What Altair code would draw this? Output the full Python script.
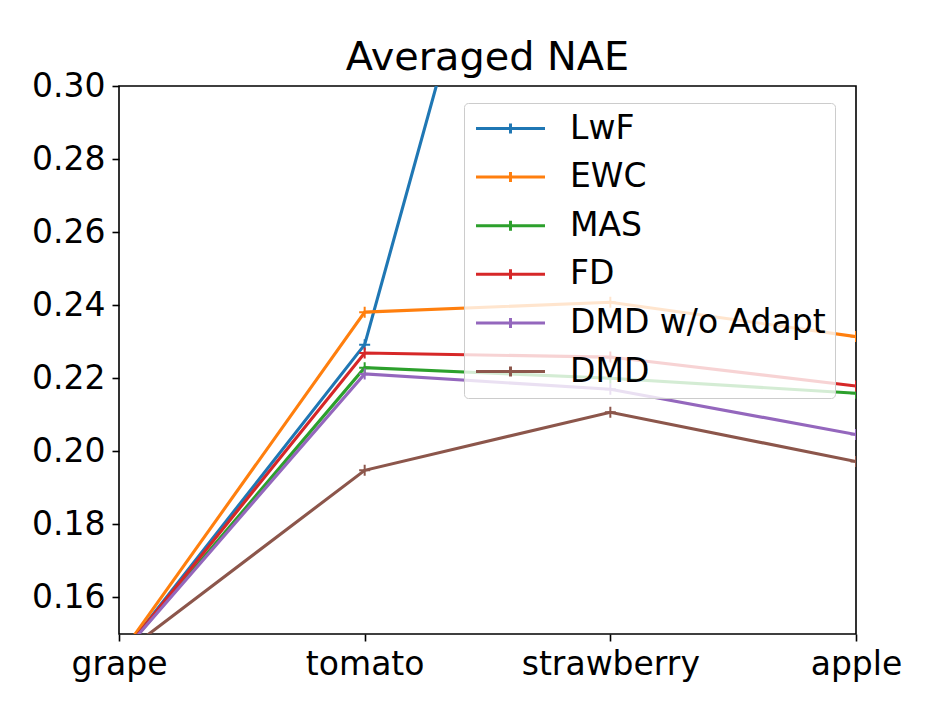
import altair as alt
import pandas as pd

categories = ["grape", "tomato", "strawberry", "apple"]
methods = ["LwF", "EWC", "MAS", "FD", "DMD w/o Adapt", "DMD"]
colors = ["#1f77b4", "#ff7f0e", "#2ca02c", "#d62728", "#9467bd", "#8c564b"]

lwf = [0.1435, 0.2292, 0.472, 0.52]
ewc = [0.1438, 0.2381, 0.2408, 0.2314]
mas = [0.1437, 0.2229, 0.2200, 0.2159]
fd = [0.1435, 0.2269, 0.2258, 0.2179]
dmd_wo = [0.1437, 0.2212, 0.2170, 0.2046]
dmd = [0.1438, 0.1948, 0.2107, 0.1972]
y_ticks = [0.16, 0.18, 0.20, 0.22, 0.24, 0.26, 0.28, 0.30]

series = [lwf, ewc, mas, fd, dmd_wo, dmd]
rows = []
for k, (m, vals) in enumerate(zip(methods, series)):
    for c, v in zip(categories, vals):
        rows.append({"method": m, "task": c, "value": v, "k": k})
df = pd.DataFrame(rows)

FONT = "DejaVu Sans"
legend_symbol = "M-3.45,0L3.45,0M0,-0.5L0,0.5"
marker = "M-1,0L1,0M0,-1L0,1"

x = alt.X("task:N", sort=categories,
          scale=alt.Scale(type="point", padding=0),
          axis=alt.Axis(title=None, labelAngle=0, labelFlush=False))
y = alt.Y("value:Q",
          scale=alt.Scale(domain=[0.15, 0.30], nice=False, zero=False),
          axis=alt.Axis(title=None, values=y_ticks, format=".2f"))
color = alt.Color("method:N",
                  scale=alt.Scale(domain=methods, range=colors),
                  legend=alt.Legend(title=None, orient="none", legendX=345, legendY=17,
                                    symbolType=legend_symbol, symbolSize=400,
                                    symbolStrokeWidth=3, symbolOffset=21,
                                    labelOffset=43, labelFontSize=33, labelFont=FONT,
                                    labelColor="black", labelLimit=0,
                                    rowPadding=14.6, padding=9,
                                    fillColor="rgba(255,255,255,0.8)",
                                    strokeColor="#cccccc", cornerRadius=4, zindex=1))

base = alt.Chart(df).encode(x=x, y=y, color=color)
lines = base.mark_line(clip=True, strokeWidth=3.1).encode(order=alt.Order("k:Q"))
points = base.mark_point(clip=True, shape=marker, size=121, strokeWidth=2,
                         filled=False, opacity=1)

chart = alt.layer(lines, points).properties(
    width=737, height=548,
    padding={"left": 111, "top": 78, "right": 60, "bottom": 60},
    autosize=alt.AutoSizeParams(type="none"),
    title=alt.Title("Averaged NAE", fontSize=39.8, font=FONT, fontWeight="normal",
                    color="black", anchor="middle", frame="group",
                    baseline="alphabetic", offset=-39.75),
).configure(font=FONT).configure_view(
    stroke="black", strokeWidth=1.6
).configure_axis(
    domain=False, grid=False, ticks=True, tickColor="black", tickWidth=1.6, tickSize=7,
    labelFont=FONT, labelFontSize=33, labelColor="black", labelPadding=7
)

chart.save("out.html", embed_options={"renderer": "svg", "actions": False})
